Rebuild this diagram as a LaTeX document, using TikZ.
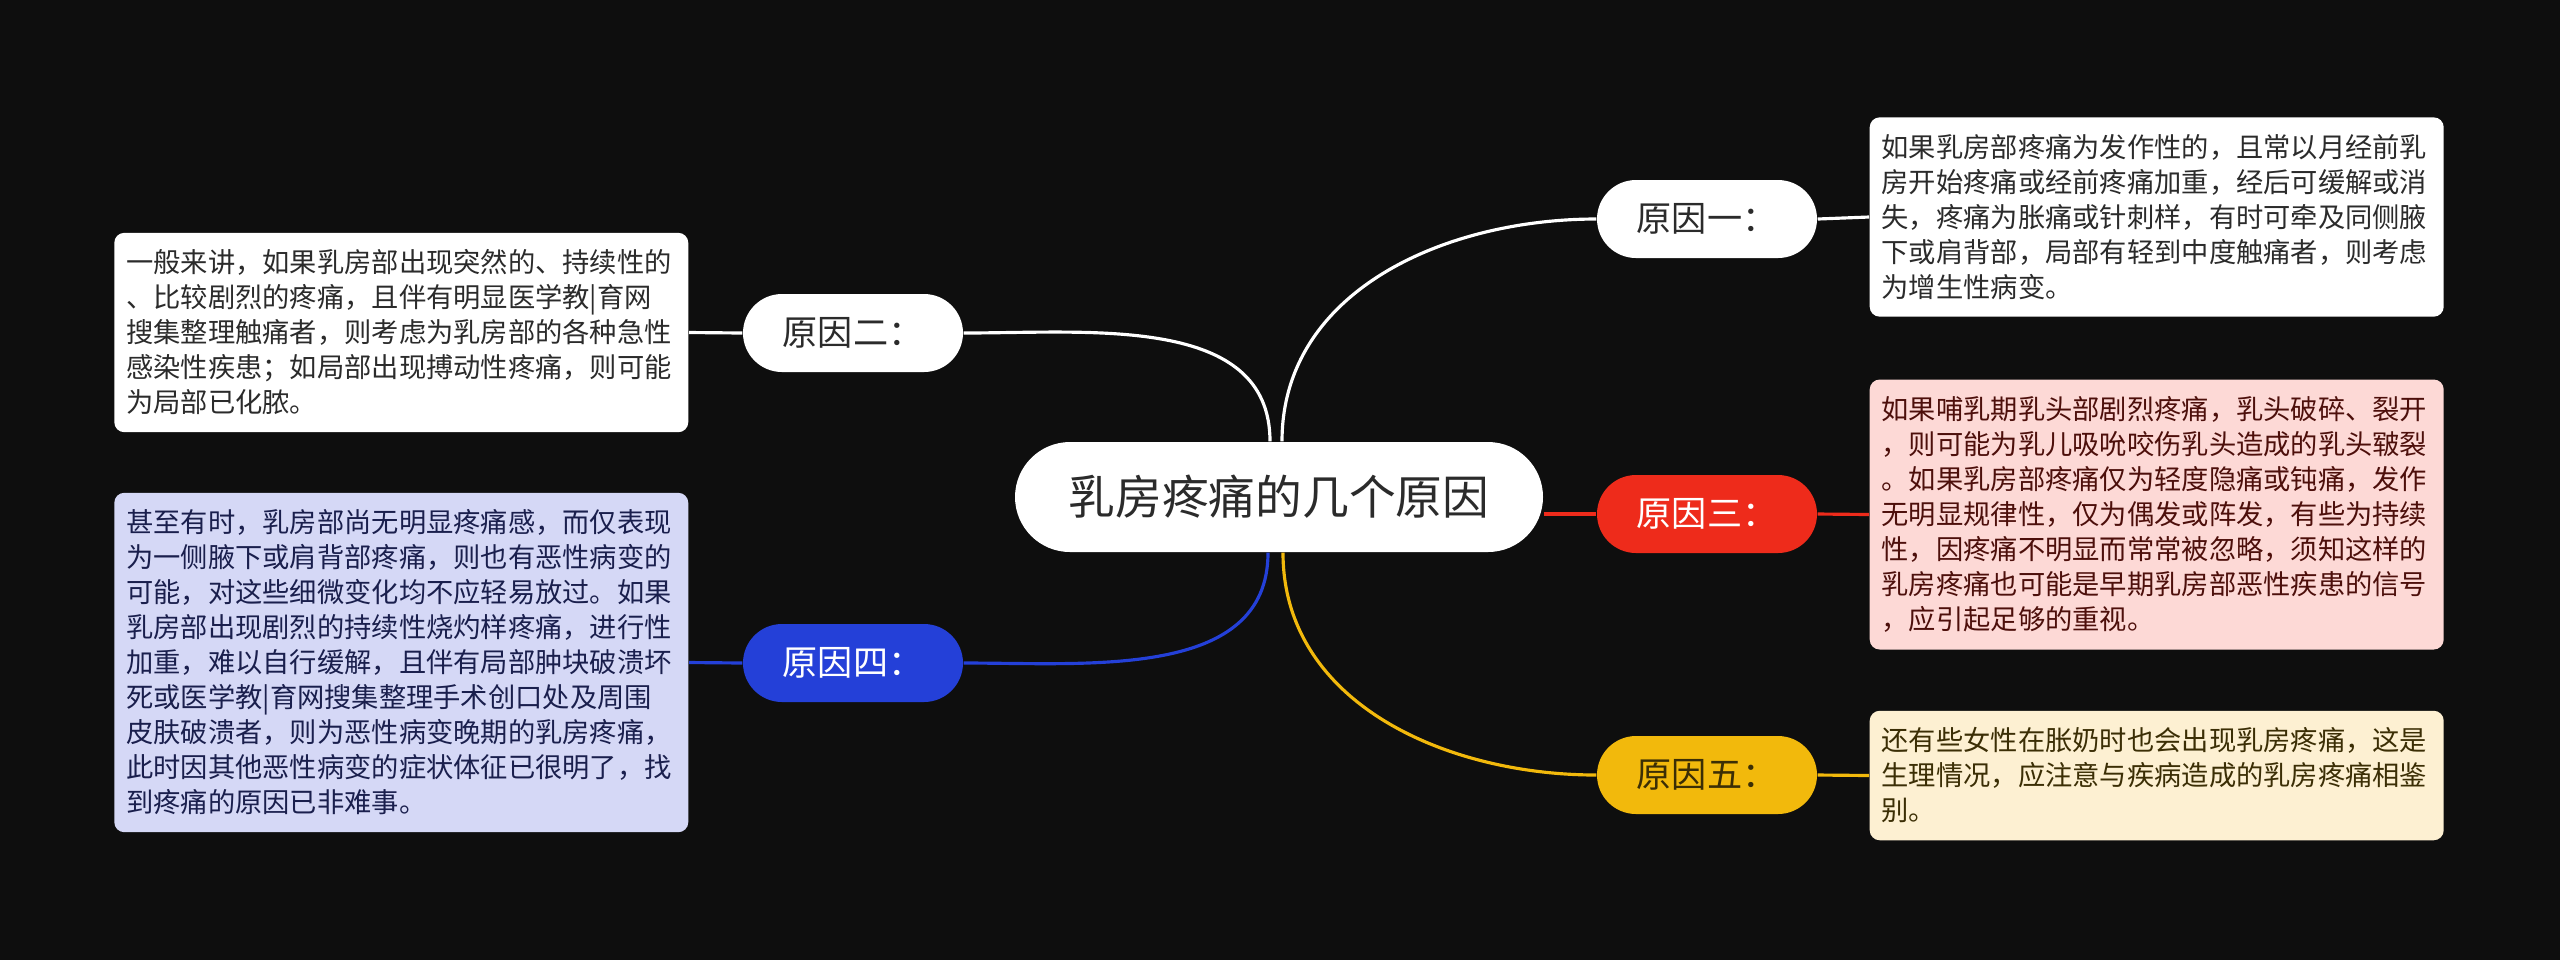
\documentclass[tikz,border=0pt]{standalone}
\usepackage{fontspec}
\setmainfont{Noto Sans CJK SC}

\definecolor{bgdark}{HTML}{0E0E0E}
\definecolor{inkdark}{HTML}{2B2B2B}
\definecolor{redfill}{HTML}{EE2B1B}
\definecolor{redpale}{HTML}{FDD9D6}
\definecolor{redink}{HTML}{4D0F0B}
\definecolor{bluefill}{HTML}{2440D8}
\definecolor{bluepale}{HTML}{D5D8F6}
\definecolor{blueink}{HTML}{1A1F4D}
\definecolor{yellowfill}{HTML}{F2B90C}
\definecolor{yellowpale}{HTML}{FDF0D2}
\definecolor{yellowink}{HTML}{3B2E05}

\tikzset{
	topic/.style={fill=white, text=inkdark, rounded corners=0.55cm, minimum width=5.28cm, minimum height=1.10cm, font=\fontsize{13.3pt}{15pt}\selectfont},
	reason/.style={rounded corners=0.39cm, minimum width=2.2cm, minimum height=0.78cm, font=\fontsize{10pt}{12pt}\selectfont},
	note/.style={rounded corners=0.1cm, text width=5.5cm, inner xsep=0.12cm, inner ysep=0.17cm, align=left, font=\fontsize{7.76pt}{9.96pt}\selectfont},
	link/.style={line width=0.9pt},
}

\begin{document}
\begin{tikzpicture}
	\fill[bgdark] (0,0) rectangle (25.6,-9.6);
	\useasboundingbox (0,0) rectangle (25.6,-9.6);

	\node[topic] (root) at (12.79,-4.97) {乳房疼痛的几个原因};

	\node[reason, fill=white, text=inkdark] (c1) at (17.07,-2.19) {原因一：};
	\node[reason, fill=redfill, text=white] (c3) at (17.07,-5.14) {原因三：};
	\node[reason, fill=yellowfill, text=yellowink] (c5) at (17.07,-7.75) {原因五：};
	\node[reason, fill=white, text=inkdark] (c2) at (8.53,-3.33) {原因二：};
	\node[reason, fill=bluefill, text=white] (c4) at (8.53,-6.63) {原因四：};

	\node[note, fill=white, text=inkdark, anchor=west] (n1) at (18.69,-2.17) {如果乳房部疼痛为发作性的，且常以月经前乳\\房开始疼痛或经前疼痛加重，经后可缓解或消\\失，疼痛为胀痛或针刺样，有时可牵及同侧腋\\下或肩背部，局部有轻到中度触痛者，则考虑\\为增生性病变。};
	\node[note, fill=redpale, text=redink, anchor=west] (n3) at (18.69,-5.145) {如果哺乳期乳头部剧烈疼痛，乳头破碎、裂开\\，则可能为乳儿吸吮咬伤乳头造成的乳头皲裂\\。如果乳房部疼痛仅为轻度隐痛或钝痛，发作\\无明显规律性，仅为偶发或阵发，有些为持续\\性，因疼痛不明显而常常被忽略，须知这样的\\乳房疼痛也可能是早期乳房部恶性疾患的信号\\，应引起足够的重视。};
	\node[note, fill=yellowpale, text=yellowink, anchor=west] (n5) at (18.69,-7.755) {还有些女性在胀奶时也会出现乳房疼痛，这是\\生理情况，应注意与疾病造成的乳房疼痛相鉴\\别。};
	\node[note, fill=white, text=inkdark, anchor=east] (n2) at (6.89,-3.325) {一般来讲，如果乳房部出现突然的、持续性的\\、比较剧烈的疼痛，且伴有明显医学教|育网\\搜集整理触痛者，则考虑为乳房部的各种急性\\感染性疾患；如局部出现搏动性疼痛，则可能\\为局部已化脓。};
	\node[note, fill=bluepale, text=blueink, anchor=east] (n4) at (6.89,-6.625) {甚至有时，乳房部尚无明显疼痛感，而仅表现\\为一侧腋下或肩背部疼痛，则也有恶性病变的\\可能，对这些细微变化均不应轻易放过。如果\\乳房部出现剧烈的持续性烧灼样疼痛，进行性\\加重，难以自行缓解，且伴有局部肿块破溃坏\\死或医学教|育网搜集整理手术创口处及周围\\皮肤破溃者，则为恶性病变晚期的乳房疼痛，\\此时因其他恶性病变的症状体征已很明了，找\\到疼痛的原因已非难事。};

	% branches from the topic
	\draw[link, white] ([xshift=0.03cm]root.north) to[out=90,in=180] (c1.west);
	\draw[link, white] ([xshift=-0.09cm]root.north) to[out=90,in=0] (c2.east);
	\draw[link, redfill] (c3.west -| root.east) -- (c3.west);
	\draw[link, bluefill] ([xshift=-0.11cm]root.south) to[out=-90,in=0] (c4.east);
	\draw[link, yellowfill] ([xshift=0.04cm]root.south) to[out=-90,in=180] (c5.west);

	% reasons to their notes
	\draw[link, white] (c1.east) -- (n1.west);
	\draw[link, redfill] (c3.east) -- (n3.west);
	\draw[link, yellowfill] (c5.east) -- (n5.west);
	\draw[link, white] (c2.west) -- (n2.east);
	\draw[link, bluefill] (c4.west) -- (n4.east);
\end{tikzpicture}
\end{document}
